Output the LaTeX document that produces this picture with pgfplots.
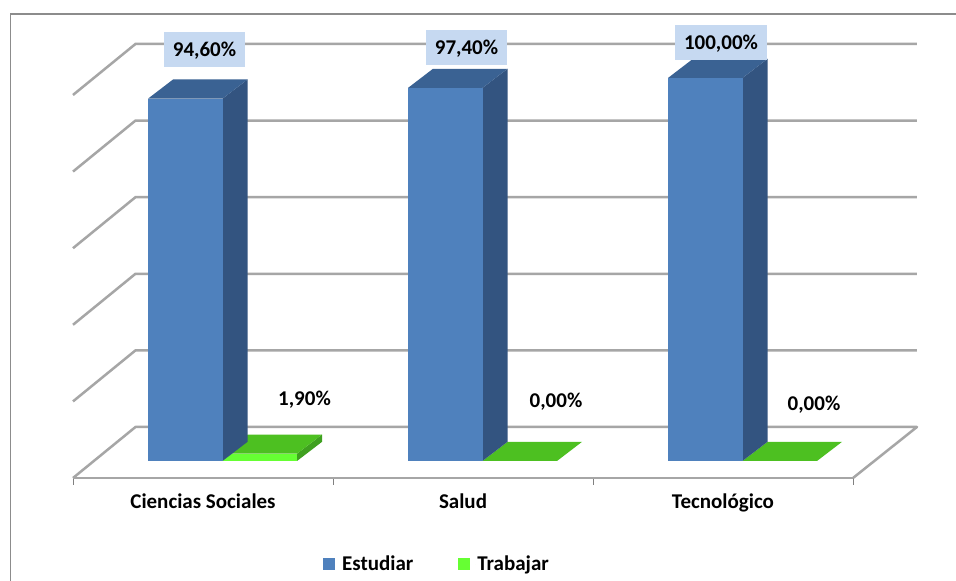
\documentclass[border=0pt]{standalone}
\usepackage{fontspec}
\setmainfont{Carlito}
\usepackage{pgfplots}
\pgfplotsset{compat=1.18}
\definecolor{bfront}{HTML}{4F81BD}
\definecolor{bside}{HTML}{335480}
\definecolor{btop}{HTML}{3A6293}
\definecolor{gfront}{HTML}{66FF33}
\definecolor{gside}{HTML}{3FA020}
\definecolor{gtop}{HTML}{4DC021}
\definecolor{gridc}{HTML}{A6A6A6}
\definecolor{boxc}{HTML}{C6D9F1}
\newcommand{\lab}{\fontsize{21}{24}\selectfont\bfseries}
\tikzset{boxlab/.style={fill=boxc,font=\lab,minimum height=35pt,inner sep=0pt,text height=14pt,text depth=0pt},
 freelab/.style={font=\lab,anchor=base}}
\begin{document}
\begin{tikzpicture}[x=1pt,y=1pt]
\useasboundingbox (0,0) rectangle (956,581);
\fill[white] (0,0) rectangle (956,581);
\draw[color=gray!90,line width=1.5pt] (10.5,0) -- (10.5,567) -- (956,567);
\begin{axis}[
  at={(73pt,103pt)}, anchor=south west,
  scale only axis, width=780pt, height=464pt,
  xmin=0, xmax=3, ymin=-4.44, ymax=116.7,
  clip=false,
  axis x line=bottom, axis y line=none,
  x axis line style={draw=gridc,line width=2pt,-},
  xtick={0.5,1.5,2.5},
  xticklabels={Ciencias Sociales,Salud,Tecnológico},
  minor xtick={0,1,2,3},
  tick align=outside,
  major tick length=0pt, minor tick length=7pt,
  minor tick style={draw=gray,line width=1pt},
  major tick style={draw=none},
  xticklabel style={font=\lab,yshift=-30pt,anchor=base},
  ytick=\empty,
  legend style={at={(axis cs:1.4,-26.9)},anchor=center,draw=none,fill=none,
    legend columns=2,font=\lab,
    /tikz/every even column/.append style={column sep=43pt}},
  legend image code/.code={\fill[#1] (0pt,-6pt) rectangle (12pt,6pt); \path (17pt,0pt) circle (0pt);},
  every axis plot/.append style={line width=0pt},
]
% floor and gridlines
\addplot[gridc,line width=2.5pt,forget plot,line join=round] coordinates {(3,-4.44)(3.246,8.88)(0.2404,8.88)(0,-4.44)};
\addplot[gridc,line width=2.5pt,forget plot] coordinates {(0,15.56)(0.2404,28.88)(3.246,28.88)};
\addplot[gridc,line width=2.5pt,forget plot] coordinates {(0,35.56)(0.2404,48.88)(3.246,48.88)};
\addplot[gridc,line width=2.5pt,forget plot] coordinates {(0,55.56)(0.2404,68.88)(3.246,68.88)};
\addplot[gridc,line width=2.5pt,forget plot] coordinates {(0,75.56)(0.2404,88.88)(3.246,88.88)};
\addplot[gridc,line width=2.5pt,forget plot] coordinates {(0,95.56)(0.2404,108.88)(3.246,108.88)};
% Ciencias Sociales, Trabajar 1.9
\addplot[fill=gside,draw=none,forget plot] coordinates {(.8615,0)(.9577,5)(.9577,6.9)(.8615,1.9)} --cycle;
\addplot[fill=gtop,draw=none,forget plot] coordinates {(.575,1.9)(.8615,1.9)(.9577,6.9)(.6712,6.9)} --cycle;
\addplot[fill=gfront,draw=none,forget plot] coordinates {(.575,0)(.8615,0)(.8615,1.9)(.575,1.9)} --cycle;
% Salud, Trabajar 0
\addplot[fill=gtop,draw=none,forget plot] coordinates {(1.575,0)(1.8615,0)(1.9577,5)(1.6712,5)} --cycle;
% Tecnologico, Trabajar 0
\addplot[fill=gtop,draw=none,forget plot] coordinates {(2.575,0)(2.8615,0)(2.9577,5)(2.6712,5)} --cycle;
% Ciencias Sociales, Estudiar 94.6
\addplot[fill=bside,draw=none,forget plot] coordinates {(.575,0)(.6712,5)(.6712,99.6)(.575,94.6)} --cycle;
\addplot[fill=btop,draw=none,forget plot] coordinates {(.2885,94.6)(.575,94.6)(.6712,99.6)(.3847,99.6)} --cycle;
\addplot[fill=bfront,draw=none,forget plot] coordinates {(.2885,0)(.575,0)(.575,94.6)(.2885,94.6)} --cycle;
% Salud, Estudiar 97.4
\addplot[fill=bside,draw=none,forget plot] coordinates {(1.575,0)(1.6712,5)(1.6712,102.4)(1.575,97.4)} --cycle;
\addplot[fill=btop,draw=none,forget plot] coordinates {(1.2885,97.4)(1.575,97.4)(1.6712,102.4)(1.3847,102.4)} --cycle;
\addplot[fill=bfront,draw=none,forget plot] coordinates {(1.2885,0)(1.575,0)(1.575,97.4)(1.2885,97.4)} --cycle;
% Tecnologico, Estudiar 100
\addplot[fill=bside,draw=none,forget plot] coordinates {(2.575,0)(2.6712,5)(2.6712,105)(2.575,100)} --cycle;
\addplot[fill=btop,draw=none,forget plot] coordinates {(2.2885,100)(2.575,100)(2.6712,105)(2.3847,105)} --cycle;
\addplot[fill=bfront,draw=none,forget plot] coordinates {(2.2885,0)(2.575,0)(2.575,100)(2.2885,100)} --cycle;
% data labels
\node[boxlab,minimum width=81pt] at (axis cs:.5058,107.44) {94,60\%};
\node[boxlab,minimum width=81pt] at (axis cs:1.5135,107.96) {97,40\%};
\node[boxlab,minimum width=92pt] at (axis cs:2.4923,109.27) {100,00\%};
\node[freelab] at (axis cs:.8904,14.4) {1,90\%};
\node[freelab] at (axis cs:1.8577,14.0) {0,00\%};
\node[freelab] at (axis cs:2.85,13.1) {0,00\%};
\addlegendimage{fill=bfront,draw=none}
\addlegendentry{Estudiar}
\addlegendimage{fill=gfront,draw=none}
\addlegendentry{Trabajar}
\end{axis}
\end{tikzpicture}
\end{document}
